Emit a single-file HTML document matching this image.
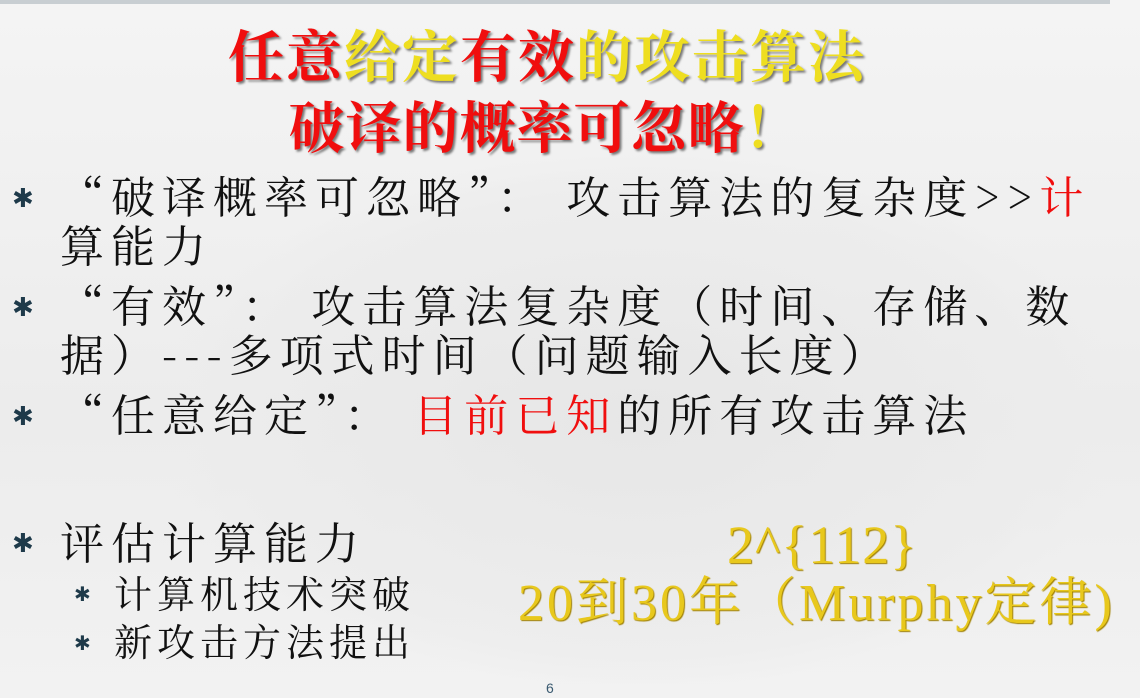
<!DOCTYPE html>
<html style="width:1140px;height:698px;overflow:hidden"><head><meta charset="utf-8"><style>
body{margin:0;width:1140px;height:698px;overflow:hidden;background:linear-gradient(#f4f4f4,#ececec 60%,#f2f2f2);position:relative;font-family:"Liberation Serif","Noto Serif CJK SC","Noto Sans CJK SC",serif;}
.t{position:absolute;white-space:nowrap;line-height:1;}
.r{color:#f00e0e;}
.y{color:#eede20;text-shadow:1px 1px 1px #aa9a10;}
.title{font-weight:bold;display:flex;}
.title span{display:inline-block;text-align:center;text-shadow:2px 2px 2px #777;}
.t1 span{width:58px}
.t2 span{width:57px}
.b{font-size:44px;color:#111;letter-spacing:7px;font-family:"Noto Serif CJK SC","Liberation Serif",serif;}
.s{font-size:38px;color:#111;letter-spacing:5px;font-family:"Noto Serif CJK SC","Liberation Serif",serif;}
.star{position:absolute;color:#1e3a4a;font-size:26px;line-height:1;font-family:"DejaVu Sans",sans-serif;}
.g{color:#e8c81c;text-shadow:1px 1px 1px #a08000;}
</style></head><body>
<div style="position:absolute;left:0;top:0;width:1110px;height:4px;background:#c8ced2"></div>
<div style="position:absolute;left:150px;top:150px;width:980px;height:540px;border-radius:50% 50% 0 0;background:radial-gradient(#e4e4e4,#ececec 60%,transparent 70%);opacity:.7"></div>
<div class="t title t1" style="left:227px;top:31px;font-size:56px">
<span class="r">任</span><span class="r">意</span><span class="y">给</span><span class="y">定</span><span class="r">有</span><span class="r">效</span><span class="y">的</span><span class="y">攻</span><span class="y">击</span><span class="y">算</span><span class="y">法</span></div>
<div class="t title t2" style="left:288px;top:102px;font-size:56px">
<span class="r">破</span><span class="r">译</span><span class="r">的</span><span class="r">概</span><span class="r">率</span><span class="r">可</span><span class="r">忽</span><span class="r">略</span><span class="y" style="width:36px">！</span></div>
<div class="star" style="left:12px;top:186px">✱</div>
<div class="t b" style="left:60px;top:172px">“破译概率可忽略”： 攻击算法的复杂度&gt;&gt;<span class="r">计</span></div>
<div class="t b r" style="left:60px;top:221px">算能力</div>
<div class="star" style="left:12px;top:295px">✱</div>
<div class="t b" style="left:60px;top:281px">“有效”： 攻击算法复杂度（时间、存储、数</div>
<div class="t b" style="left:60px;top:330px">据）---多项式时间（问题输入长度）</div>
<div class="star" style="left:12px;top:404px">✱</div>
<div class="t b" style="left:60px;top:390px">“任意给定”： <span class="r">目前已知</span>的所有攻击算法</div>
<div class="star" style="left:12px;top:531px">✱</div>
<div class="t b" style="left:60px;top:518px">评估计算能力</div>
<div class="star" style="left:74px;top:584px;font-size:20px">✱</div>
<div class="t s" style="left:114px;top:573px">计算机技术突破</div>
<div class="star" style="left:74px;top:633px;font-size:20px">✱</div>
<div class="t s" style="left:114px;top:621px">新攻击方法提出</div>
<div class="t g" style="left:727px;top:518px;font-size:54px;letter-spacing:1px">2^{112}</div>
<div class="t g" style="left:518px;top:578px;font-size:52px;letter-spacing:3px">20到30年（Murphy定律)</div>
<div class="t" style="left:546px;top:681px;font-size:14px;color:#3a5a70;font-family:'Liberation Sans',sans-serif">6</div>
</body></html>
